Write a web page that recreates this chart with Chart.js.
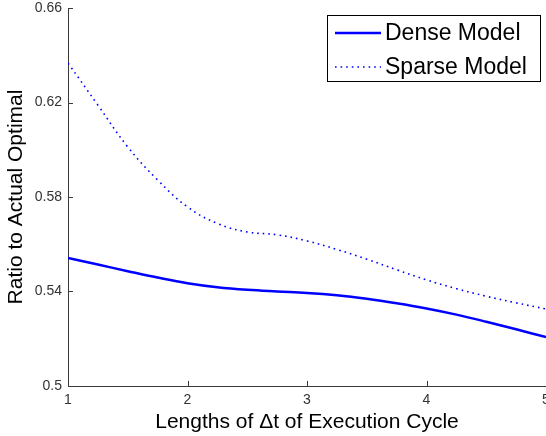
<!DOCTYPE html>
<html>
<head>
<meta charset="utf-8">
<script src="https://cdn.jsdelivr.net/npm/chart.js@4/dist/chart.umd.min.js"></script>
<style>
html,body{margin:0;padding:0;background:#fff;}
canvas{display:block;}
</style>
</head>
<body>
<canvas id="c" width="546" height="436"></canvas>
<script>
const xValues = [1, 1.25, 1.5, 1.75, 2, 2.25, 2.5, 2.75, 3, 3.25, 3.5, 3.75, 4, 4.25, 4.5, 4.75, 5];
const denseModel = [0.5542, 0.5514, 0.5486, 0.5459, 0.5435, 0.5418, 0.5407, 0.5400, 0.5394, 0.5384, 0.5369, 0.5350, 0.5328, 0.5302, 0.5272, 0.5240, 0.5207];
const sparseModel = [0.6367, 0.6189, 0.6012, 0.5872, 0.5758, 0.5688, 0.5652, 0.5640, 0.5614, 0.5578, 0.5537, 0.5492, 0.5449, 0.5412, 0.5380, 0.5352, 0.5326];
const seriesNames = ['Dense Model', 'Sparse Model'];
const xTicks = [1, 2, 3, 4, 5];
const xTickLabels = ['1', '2', '3', '4', '5'];
const yTicks = [0.5, 0.54, 0.58, 0.62, 0.66];
const yTickLabels = ['0.5', '0.54', '0.58', '0.62', '0.66'];
const xTitle = 'Lengths of \u0394t of Execution Cycle';
const yTitle = 'Ratio to Actual Optimal';

const FONT = 'Arial, "Liberation Sans", sans-serif';
const AXIS_COLOR = '#3a3a3a';

const innerTicks = {
  id: 'innerTicks',
  afterDraw(chart) {
    const ctx = chart.ctx;
    const xs = chart.scales.x, ys = chart.scales.y;
    const a = chart.chartArea;
    ctx.save();
    ctx.strokeStyle = AXIS_COLOR;
    ctx.lineWidth = 1;
    ctx.beginPath();
    xTicks.forEach(v => {
      const px = Math.round(xs.getPixelForValue(v)) + 0.5;
      ctx.moveTo(px, a.bottom);
      ctx.lineTo(px, a.bottom - 5);
    });
    yTicks.forEach(v => {
      const py = Math.round(ys.getPixelForValue(v)) + 0.5;
      ctx.moveTo(a.left, py);
      ctx.lineTo(a.left + 5, py);
    });
    ctx.stroke();
    ctx.restore();
  }
};

const boxLegend = {
  id: 'boxLegend',
  afterDraw(chart) {
    const ctx = chart.ctx;
    const a = chart.chartArea;
    const right = a.right - 6, top = a.top + 7;
    const w = 213, h = 66;
    const left = right - w;
    ctx.save();
    ctx.fillStyle = '#fff';
    ctx.fillRect(left, top, w, h);
    ctx.strokeStyle = '#000';
    ctx.lineWidth = 1;
    ctx.strokeRect(Math.round(left) + 0.5, Math.round(top) + 0.5, w, h);
    chart.data.datasets.forEach((ds, i) => {
      const cy = top + 18 + i * 34;
      ctx.beginPath();
      ctx.strokeStyle = ds.borderColor;
      ctx.lineWidth = ds.borderWidth;
      ctx.setLineDash(ds.borderDash || []);
      ctx.moveTo(left + 8, cy);
      ctx.lineTo(left + 54, cy);
      ctx.stroke();
      ctx.setLineDash([]);
      ctx.fillStyle = '#000';
      ctx.font = '23px ' + FONT;
      ctx.textBaseline = 'middle';
      ctx.textAlign = 'left';
      ctx.fillText(ds.label, left + 58, cy + 1);
    });
    ctx.restore();
  }
};

new Chart(document.getElementById('c'), {
  type: 'line',
  data: {
    labels: xValues,
    datasets: [
      {
        label: seriesNames[0],
        data: xValues.map((x, i) => ({x: x, y: denseModel[i]})),
        borderColor: '#0000ff',
        borderWidth: 2.5,
        pointRadius: 0,
        tension: 0.4,
        fill: false
      },
      {
        label: seriesNames[1],
        data: xValues.map((x, i) => ({x: x, y: sparseModel[i]})),
        borderColor: '#0000ff',
        borderWidth: 1.6,
        borderDash: [1.6, 4],
        pointRadius: 0,
        tension: 0.4,
        fill: false
      }
    ]
  },
  options: {
    responsive: false,
    animation: false,
    layout: {padding: {top: 8, right: 0, bottom: 0, left: 0}},
    plugins: {legend: {display: false}, tooltip: {enabled: false}},
    scales: {
      x: {
        type: 'linear',
        min: 1, max: 5,
        afterBuildTicks(s) { s.ticks = xTicks.map(v => ({value: v})); },
        afterFit(s) { s.height = 50; s.paddingLeft = 0; s.paddingRight = 0; },
        grid: {display: false, drawTicks: false},
        border: {display: true, color: AXIS_COLOR, width: 1},
        ticks: {
          padding: 6,
          color: '#333',
          font: {family: FONT, size: 14},
          maxRotation: 0,
          autoSkip: false,
          callback: (v) => { const i = xTicks.indexOf(v); return i >= 0 ? xTickLabels[i] : ''; }
        },
        title: {display: true, text: xTitle, color: '#000', font: {family: FONT, size: 21}, padding: {top: 0, bottom: 1}}
      },
      y: {
        type: 'linear',
        min: 0.5, max: 0.66,
        afterBuildTicks(s) { s.ticks = yTicks.map(v => ({value: v})); },
        afterFit(s) { s.width = 68; s.paddingTop = 0; s.paddingBottom = 0; },
        grid: {display: false, drawTicks: false},
        border: {display: true, color: AXIS_COLOR, width: 1},
        ticks: {
          padding: 6,
          color: '#333',
          font: {family: FONT, size: 14},
          autoSkip: false,
          callback: (v) => { const i = yTicks.findIndex(t => Math.abs(t - v) < 1e-9); return i >= 0 ? yTickLabels[i] : ''; }
        },
        title: {display: true, text: yTitle, color: '#000', font: {family: FONT, size: 21}, padding: {top: 4, bottom: 0}}
      }
    }
  },
  plugins: [innerTicks, boxLegend]
});
</script>
</body>
</html>
